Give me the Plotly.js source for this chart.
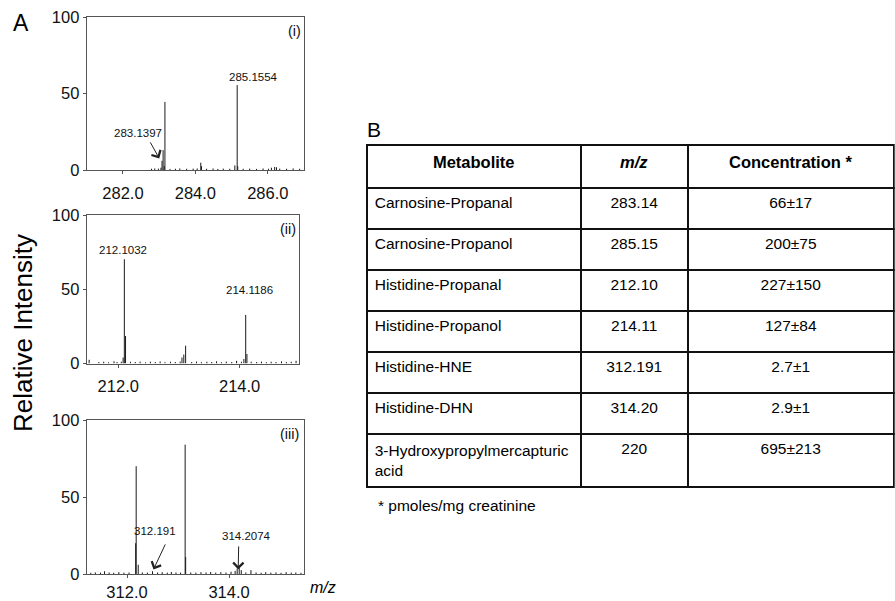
<!DOCTYPE html>
<html>
<head>
<meta charset="utf-8">
<script src="https://cdn.plot.ly/plotly-3.0.1.min.js"></script>
<style>html,body{margin:0;padding:0;background:#fff;}#chart{width:895px;height:601px;}</style>
</head>
<body>
<div id="chart"></div>
<script>
// ---------- Data ----------
// Panel (i): m/z 281-287
const mzI  = [282.79,282.88,282.98,283.05,283.08,283.11,283.14,283.16,283.30,283.45,283.57,283.76,283.94,284.05,284.15,284.17,284.31,284.49,284.62,284.77,284.95,285.09,285.155,285.17,285.32,285.50,285.69,285.87,286.02,286.10,286.19,286.24,286.33,286.52,286.70,286.88];
const intI = [0.8,1.0,0.9,1.5,6,13,2.5,44.6,0.7,0.8,1.0,0.8,0.9,1.0,4.8,2.5,0.8,1.0,0.7,0.9,0.8,3,55.6,2.5,0.8,0.9,0.7,1.0,0.8,1.5,2,1.8,0.9,0.8,1.0,0.8];
// Panel (ii): m/z 211.5-215
const mzII  = [211.52,211.68,211.76,211.84,211.93,211.98,212.05,212.08,212.10,212.12,212.20,212.28,212.36,212.45,212.53,212.61,212.69,212.77,212.86,212.94,213.02,213.05,213.08,213.11,213.21,213.29,213.37,213.46,213.54,213.62,213.70,213.78,213.87,213.95,214.03,214.07,214.10,214.12,214.19,214.28,214.36,214.44,214.52,214.60,214.69,214.77,214.85,214.93];
const intII = [2.5,1.0,1.2,0.8,1.5,1.0,1.2,4,70.2,18.5,1.2,1.0,1.3,0.8,1.2,1.0,1.4,0.9,1.2,1.0,1.3,4,6,12,1.0,1.3,0.9,1.2,1.0,1.5,0.9,1.3,1.0,1.8,1.2,3,32.7,6.4,1.2,1.0,1.3,0.9,1.2,1.0,1.4,1.0,1.2,1.8];
// Panel (iii): m/z 311.2-315.5
const mzIII  = [311.29,311.38,311.48,311.56,311.65,311.74,311.84,311.94,312.04,312.17,312.18,312.22,312.30,312.40,312.50,312.60,312.69,312.79,312.87,312.96,313.05,313.14,313.15,313.25,313.35,313.45,313.55,313.64,313.74,313.84,313.94,314.04,314.12,314.16,314.20,314.24,314.33,314.43,314.53,314.63,314.72,314.82,314.92,315.02,315.12,315.22,315.31,315.41];
const intIII = [0.8,1.0,0.9,1.8,1.0,0.8,1.2,0.9,1.0,20,70,6,1.0,0.9,1.8,1.0,1.2,0.9,1.3,1.0,0.9,84,11,1.0,0.9,1.2,1.0,1.3,0.9,1.2,1.0,1.5,2,3.5,4,2.5,1.0,2.5,1.0,0.8,1.2,0.9,1.0,0.8,1.2,0.9,1.0,0.8];

const tickValsI = [282, 284, 286],   tickTextI = ['282.0','284.0','286.0'];
const tickValsII = [212, 214],       tickTextII = ['212.0','214.0'];
const tickValsIII = [312, 314],      tickTextIII = ['312.0','314.0'];
const yTickVals = [0, 50, 100],      yTickText = ['0','50','100'];

// Table B
const tableHeader = ['<b>Metabolite</b>', '<b><i>m/z</i></b>', '<b>Concentration *</b>'];
const metabolites = ['Carnosine-Propanal','Carnosine-Propanol','Histidine-Propanal','Histidine-Propanol','Histidine-HNE','Histidine-DHN','3-Hydroxypropylmercapturic<br>acid'];
const mzValues = ['283.14','285.15','212.10','214.11','312.191','314.20','220'];
const concentrations = ['66±17','200±75','227±150','127±84','2.7±1','2.9±1','695±213'];

// ---------- Build ----------
const FONT = 'Liberation Sans, Arial, Helvetica, sans-serif';
function stickTrace(mz, inten, xa, ya) {
  const x = [], y = [];
  for (let i = 0; i < mz.length; i++) { x.push(mz[i], mz[i], null); y.push(0, inten[i], null); }
  return {type:'scatter', mode:'lines', x:x, y:y, xaxis:xa, yaxis:ya,
          line:{color:'#1a1a1a', width:1}, hoverinfo:'skip', showlegend:false, cliponaxis:true};
}

const traces = [
  stickTrace(mzI, intI, 'x', 'y'),
  stickTrace(mzII, intII, 'x2', 'y2'),
  stickTrace(mzIII, intIII, 'x3', 'y3'),
  {
    type:'table',
    domain:{x:[366.7/895, 894/895], y:[0.02, 1-145/601]},
    columnwidth:[214, 107, 206],
    header:{values:tableHeader, align:'center', height:43,
            font:{family:FONT, size:16.5, color:'#000'},
            line:{color:'#111', width:1.6}, fill:{color:'#fff'}},
    cells:{values:[metabolites, mzValues, concentrations],
           align:['left','center','center'], height:41,
           font:{family:FONT, size:15.5, color:'#000'},
           line:{color:'#111', width:1.6}, fill:{color:'#fff'}}
  }
];

function xAxis(dom, range, tv, tt, anchor, standoff) {
  return {domain:dom, range:range, anchor:anchor, tickvals:tv, ticktext:tt,
          showgrid:false, zeroline:false, showline:true, mirror:true,
          linecolor:'#555', linewidth:1, ticks:'outside', ticklen:3, tickcolor:'#555',
          ticklabelstandoff:standoff, tickfont:{family:FONT, size:16.5, color:'#111'}, fixedrange:true};
}
function yAxis(dom, anchor) {
  return {domain:dom, range:[0,100], anchor:anchor, tickvals:yTickVals, ticktext:yTickText,
          showgrid:false, zeroline:false, showline:true, mirror:true,
          linecolor:'#555', linewidth:1, ticks:'outside', ticklen:3, tickcolor:'#555',
          tickfont:{family:FONT, size:16.5, color:'#111'}, fixedrange:true};
}
function paperText(text, px, py, size, extra) {
  return Object.assign({text:text, xref:'paper', yref:'paper', x:px/895, y:1-py/601,
    xanchor:'center', yanchor:'middle', showarrow:false,
    font:{family:FONT, size:size, color:'#000'}}, extra || {});
}
function dataText(text, xa, ya, x, y) {
  return {text:text, xref:xa, yref:ya, x:x, y:y, xanchor:'center', yanchor:'middle',
          showarrow:false, font:{family:FONT, size:11.5, color:'#111'}};
}
function arrow(xa, ya, x, y, ax, ay) {
  return {text:' ', xref:xa, yref:ya, x:x, y:y, ax:ax, ay:ay, showarrow:true,
          arrowhead:4, arrowsize:2, arrowwidth:1, arrowcolor:'#222', standoff:0,
          font:{family:FONT, size:1}};
}
function panelTag(text, xa, ya, xshift) {
  return {text:text, xref:xa + ' domain', yref:ya + ' domain', x:1, y:1, xanchor:'right', yanchor:'top',
          xshift:xshift, yshift:-4, showarrow:false, font:{family:FONT, size:14.5, color:'#111'}};
}
const X0 = 86.7/895;
const layout = {
  width:895, height:601, margin:{l:0, r:0, t:0, b:0},
  paper_bgcolor:'#fff', plot_bgcolor:'#fff', showlegend:false,
  font:{family:FONT, color:'#111'},
  xaxis:  xAxis([X0, 304/895], [281.0, 287.0], tickValsI, tickTextI, 'y', 5),
  yaxis:  yAxis([1-170/601, 1-17.3/601], 'x'),
  xaxis2: xAxis([X0, 298.5/895], [211.48, 214.97], tickValsII, tickTextII, 'y2', 5),
  yaxis2: yAxis([1-363.5/601, 1-215/601], 'x2'),
  xaxis3: xAxis([X0, 304/895], [311.21, 315.47], tickValsIII, tickTextIII, 'y3', 0),
  yaxis3: yAxis([1-574/601, 1-420/601], 'x3'),
  annotations: [
    paperText('A', 21, 23, 23),
    paperText('B', 374, 129, 21),
    paperText('Relative Intensity', 23, 333, 26, {textangle:-90}),
    paperText('* pmoles/mg creatinine', 376, 505, 15.5, {xanchor:'left'}),
    paperText('<i>m/z</i>', 323, 587, 16),
    // panel (i)
    panelTag('(i)', 'x', 'y', -1),
    dataText('285.1554', 'x', 'y', 285.6, 60.6),
    dataText('283.1397', 'x', 'y', 282.42, 24),
    arrow('x', 'y', 283.003, 7.6, -10, -18),
    // panel (ii)
    panelTag('(ii)', 'x2', 'y2', -1),
    dataText('212.1032', 'x2', 'y2', 212.07, 76.4),
    dataText('214.1186', 'x2', 'y2', 214.17, 49.5),
    // panel (iii)
    panelTag('(iii)', 'x3', 'y3', -3),
    dataText('312.191', 'x3', 'y3', 312.55, 27.9),
    arrow('x3', 'y3', 312.52, 3, 12.7, -27),
    dataText('314.2074', 'x3', 'y3', 314.35, 24.9),
    arrow('x3', 'y3', 314.18, 3, 0.5, -25)
  ]
};
Plotly.newPlot('chart', traces, layout, {staticPlot:true, displayModeBar:false});
</script>
</body>
</html>
